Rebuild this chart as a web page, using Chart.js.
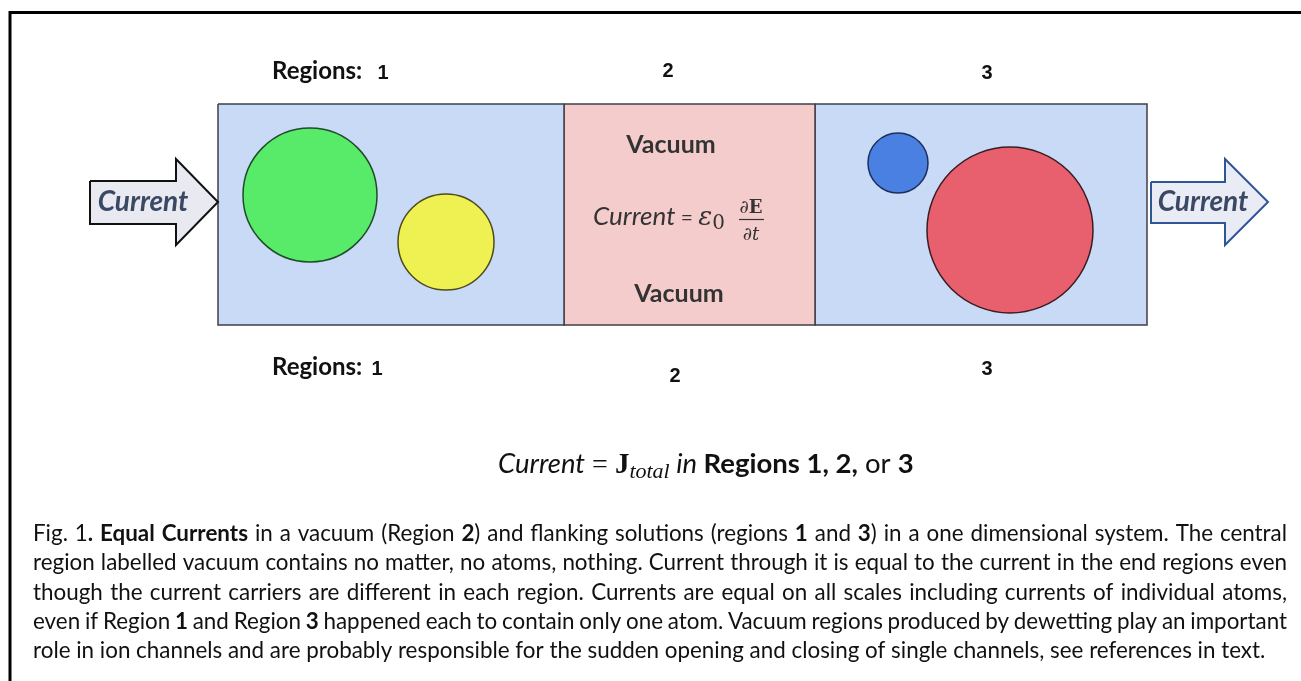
<!DOCTYPE html>
<html>
<head>
<meta charset="utf-8">
<script src="https://cdn.jsdelivr.net/npm/chart.js@4.4.1/dist/chart.umd.min.js"></script>
<style>
  html, body { margin: 0; padding: 0; background: #ffffff; }
  #diagram { display: block; }
</style>
</head>
<body>
<canvas id="diagram" width="1301" height="681"></canvas>
<script>
// regions of the 1D system, [x0, x1, y0, y1] in picture units
const regionNames = ["Region 1", "Region 2", "Region 3"];
const regionBoxes = [
  [218, 564, 104, 325],
  [564, 815, 104, 325],
  [815, 1147, 104, 325],
];
const regionFills = ["#c9daf6", "#f4cccc", "#c9daf6"];

// atoms (circles): centre x, centre y, radius
const atomX = [310, 446, 898, 1010];
const atomY = [195, 242, 163, 230];
const atomR = [67, 48, 30, 83];
const atomFills = ["#58eb6a", "#eff152", "#4a80e2", "#e8606d"];
const atomBorders = ["#1e4d27", "#4d4a1c", "#1c2f5c", "#3a1c22"];

// current arrows (outline points)
const arrowInX = [90, 176, 176, 218, 176, 176, 90, 90];
const arrowInY = [181, 181, 159, 202, 245, 224, 224, 181];
const arrowOutX = [1151, 1225, 1225, 1268, 1225, 1225, 1151, 1151];
const arrowOutY = [182, 182, 159, 202, 245, 223, 223, 182];

// outer frame (only the top and left edges are in view)
const frameX = [10, 10, 1320];
const frameY = [700, 12.5, 12.5];

const captionLines = [
  "Fig. 1*. Equal Currents* in a vacuum (Region *2*) and flanking solutions (regions *1* and *3*) in a one dimensional system. The central",
  "region labelled vacuum contains no matter, no atoms, nothing. Current through it is equal to the current in the end regions even",
  "though the current carriers are different in each region. Currents are equal on all scales including currents of individual atoms,",
  "even if Region *1* and Region *3* happened each to contain only one atom. Vacuum regions produced by dewetting play an important",
  "role in ion channels and are probably responsible for the sudden opening and closing of single channels, see references in text.",
];

function toPoints(xs, ys) {
  return xs.map(function (x, i) {
    return { x: x, y: ys[i] };
  });
}

function boxPoints(box) {
  return toPoints([box[0], box[1], box[1], box[0], box[0]], [box[2], box[2], box[3], box[3], box[2]]);
}

function shapeDataset(points, fill, stroke, width, order) {
  return {
    type: "line",
    data: points,
    showLine: true,
    fill: fill ? "shape" : false,
    backgroundColor: fill || "transparent",
    borderColor: stroke,
    borderWidth: width,
    pointRadius: 0,
    tension: 0,
    order: order,
  };
}

const datasets = [];

regionBoxes.forEach(function (box, i) {
  datasets.push(Object.assign(shapeDataset(boxPoints(box), regionFills[i], "#3f3f46", 1.5, 5), { label: regionNames[i] }));
});

datasets.push(shapeDataset(toPoints(arrowInX, arrowInY), "#e8e9f1", "#111111", 2, 4));
datasets.push(shapeDataset(toPoints(arrowOutX, arrowOutY), "#e9ecf5", "#2f5597", 2, 4));
datasets.push(shapeDataset(toPoints(frameX, frameY), null, "#000000", 3, 4));

datasets.push({
  type: "bubble",
  data: atomX.map(function (x, i) {
    return { x: x, y: atomY[i], r: atomR[i] };
  }),
  backgroundColor: atomFills,
  borderColor: atomBorders,
  borderWidth: 1.5,
  order: 1,
});

function runsWidth(ctx, runs) {
  return runs.reduce(function (sum, run) {
    ctx.font = run.font;
    return sum + ctx.measureText(run.text).width;
  }, 0);
}

function drawRuns(ctx, runs, x, y) {
  runs.forEach(function (run) {
    ctx.font = run.font;
    ctx.fillStyle = run.color || "#111111";
    ctx.fillText(run.text, x, y + (run.dy || 0));
    x += ctx.measureText(run.text).width;
  });
  return x;
}

function parseWords(line, state) {
  return line.split(" ").map(function (word) {
    const runs = [];
    let text = "";
    for (const ch of word) {
      if (ch === "*") {
        if (text) runs.push({ text: text, bold: state.bold });
        text = "";
        state.bold = !state.bold;
      } else {
        text += ch;
      }
    }
    if (text) runs.push({ text: text, bold: state.bold });
    return runs;
  });
}

function drawCaption(ctx) {
  const left = 33;
  const right = 1287;
  const size = 22.4;
  const top = 534;
  const lineGap = 29.2;
  const regular = size + "px Lato";
  const bold = "bold " + size + "px Lato";
  const state = { bold: false };

  ctx.textBaseline = "middle";
  ctx.textAlign = "left";
  ctx.fillStyle = "#111111";

  captionLines.forEach(function (line, li) {
    const words = parseWords(line, state);
    const widths = words.map(function (runs) {
      return runs.reduce(function (sum, run) {
        ctx.font = run.bold ? bold : regular;
        return sum + ctx.measureText(run.text).width;
      }, 0);
    });
    ctx.font = regular;
    const space = ctx.measureText(" ").width;
    const total = widths.reduce(function (a, b) { return a + b; }, 0);
    const last = li === captionLines.length - 1;
    const gap = last ? space : (right - left - total) / (words.length - 1);
    let x = left;
    const y = top + li * lineGap;
    words.forEach(function (runs) {
      runs.forEach(function (run) {
        ctx.font = run.bold ? bold : regular;
        ctx.fillText(run.text, x, y);
        x += ctx.measureText(run.text).width;
      });
      x += gap;
    });
  });
}

const labelPlugin = {
  id: "labels",
  afterDatasetsDraw: function (chart) {
    const ctx = chart.ctx;
    ctx.save();
    ctx.textBaseline = "middle";
    ctx.textAlign = "left";

    // region numbers above and below
    ctx.fillStyle = "#111111";
    ctx.font = "bold 24px Lato";
    ctx.fillText("Regions:", 272, 71);
    ctx.fillText("Regions:", 272, 367);
    ctx.textAlign = "center";
    ctx.font = "bold 20px 'Liberation Sans'";
    ctx.fillText("1", 383, 73);
    ctx.fillText("2", 668, 71);
    ctx.fillText("3", 987, 73);
    ctx.fillText("1", 377, 369);
    ctx.fillText("2", 675, 376);
    ctx.fillText("3", 987, 369);

    // arrow labels
    ctx.fillStyle = "#3a4863";
    ctx.font = "italic bold 28px Lato";
    ctx.fillText("Current", 143, 202);
    ctx.fillText("Current", 1203, 202);

    // vacuum region
    ctx.fillStyle = "#333333";
    ctx.font = "bold 25px Lato";
    ctx.fillText("Vacuum", 671, 145);
    ctx.fillText("Vacuum", 679, 294);

    ctx.textAlign = "left";
    ctx.textBaseline = "alphabetic";
    drawRuns(ctx, [
      { text: "Current", font: "italic 26px Lato", color: "#333333" },
      { text: " = ", font: "21px Lato", color: "#333333" },
      { text: "\u03b5", font: "italic 26px 'DejaVu Serif'", color: "#333333" },
      { text: "0", font: "20px 'DejaVu Serif'", color: "#333333", dy: 4 },
    ], 593, 225);

    const topRuns = [
      { text: "\u2202", font: "18px 'DejaVu Serif'", color: "#333333" },
      { text: "E", font: "bold 18px 'DejaVu Serif'", color: "#333333" },
    ];
    const bottomRuns = [
      { text: "\u2202", font: "18px 'DejaVu Serif'", color: "#333333" },
      { text: "t", font: "italic 18px 'DejaVu Serif'", color: "#333333" },
    ];
    const fracMid = 751;
    drawRuns(ctx, topRuns, fracMid - runsWidth(ctx, topRuns) / 2, 213);
    drawRuns(ctx, bottomRuns, fracMid - runsWidth(ctx, bottomRuns) / 2, 240);
    ctx.strokeStyle = "#333333";
    ctx.lineWidth = 1.2;
    ctx.beginPath();
    ctx.moveTo(739, 219.5);
    ctx.lineTo(764, 219.5);
    ctx.stroke();

    // total current statement
    drawRuns(ctx, [
      { text: "Current", font: "italic 27.5px Lato" },
      { text: " = ", font: "28px 'Liberation Serif'" },
      { text: "J", font: "bold 29px 'Liberation Serif'" },
      { text: "total", font: "italic 22px 'Liberation Serif'", dy: 5 },
      { text: " in ", font: "italic 27.5px Lato" },
      { text: "Regions 1, 2,", font: "bold 27.5px Lato" },
      { text: " or ", font: "27.5px Lato" },
      { text: "3", font: "bold 27.5px Lato" },
    ], 498, 473);

    drawCaption(ctx);
    ctx.restore();
  },
};

new Chart(document.getElementById("diagram"), {
  type: "scatter",
  data: { datasets: datasets },
  options: {
    responsive: false,
    animation: false,
    layout: { padding: 0, autoPadding: false },
    plugins: {
      legend: { display: false },
      tooltip: { enabled: false },
    },
    scales: {
      x: { type: "linear", min: 0, max: 1301, display: false },
      y: { type: "linear", min: 0, max: 681, reverse: true, display: false },
    },
  },
  plugins: [labelPlugin],
});
</script>
</body>
</html>
